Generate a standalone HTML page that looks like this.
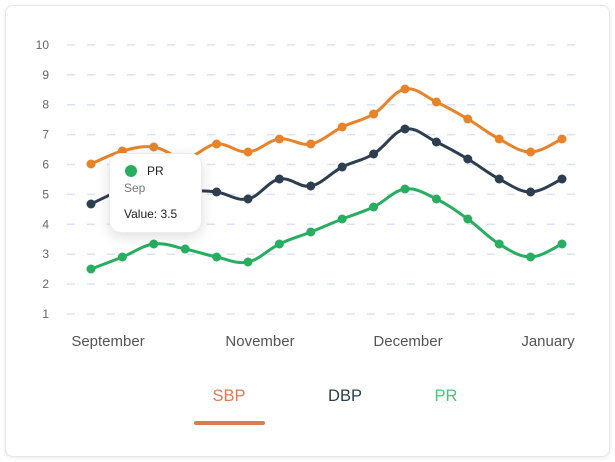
<!DOCTYPE html>
<html><head><meta charset="utf-8"><style>
html,body{margin:0;padding:0;background:#fff;width:615px;height:462px;overflow:hidden;font-family:"Liberation Sans",sans-serif}
.card{position:absolute;left:5px;top:5px;width:603px;height:450px;border:1px solid #e6e6e6;border-radius:8px;box-shadow:0 1px 4px rgba(0,0,0,0.08);background:#fff}
.tip{position:absolute;left:109px;top:153px;width:91px;height:78px;background:#fff;border:1px solid #ececec;border-radius:12px;box-shadow:0 4px 14px rgba(0,0,0,0.13);font-size:12px;color:#222}
</style></head><body>
<div class="card"></div>
<svg width="615" height="462" style="position:absolute;left:0;top:0" id="s">
<g id="grid" stroke="#dde3f7" stroke-width="1.5" stroke-dasharray="8 12"></g>
<g font-size="12" fill="#666" text-anchor="end" id="yl"></g>
<g font-size="15" fill="#555" text-anchor="middle">
<text x="108" y="346">September</text><text x="260" y="346">November</text><text x="408" y="346">December</text><text x="548" y="346">January</text></g>
<g id="series"></g>
<g font-size="16.5" text-anchor="middle">
<text x="229" y="401" fill="#e07a55">SBP</text><text x="345" y="401" fill="#2c3e50">DBP</text><text x="446" y="401" fill="#4cc77a">PR</text></g>
<line x1="196" y1="423" x2="263" y2="423" stroke="#e07a55" stroke-width="4" stroke-linecap="round"/>
</svg>
<div class="tip">
<div style="position:absolute;left:15px;top:11px;width:12px;height:12px;border-radius:50%;background:#27ae60"></div>
<div style="position:absolute;left:37px;top:10px">PR</div>
<div style="position:absolute;left:14px;top:27px;color:#777">Sep</div>
<div style="position:absolute;left:14px;top:53px">Value: 3.5</div>
</div>
<script>
var ns="http://www.w3.org/2000/svg",g=document.getElementById('grid'),yl=document.getElementById('yl');
for(var i=1;i<=10;i++){var y=314-(i-1)*29.9;var l=document.createElementNS(ns,'line');l.setAttribute('x1',67);l.setAttribute('x2',580);l.setAttribute('y1',y);l.setAttribute('y2',y);g.appendChild(l);
var t=document.createElementNS(ns,'text');t.setAttribute('x',49);t.setAttribute('y',y+4);t.textContent=i;yl.appendChild(t);}
var xs=[];for(var i=0;i<16;i++)xs.push(91+i*31.4);
var S=[[164,151,147,158,144,152,139,144,127,114,89,102,119,139,152,139,'#e8832a'],
[204,190,184,190,192,199,179,186,167,154,129,142,159,179,192,179,'#2c3e50'],
[269,257,244,249,257,262,244,232,219,207,189,199,219,244,257,244,'#27ae60']];
var sg=document.getElementById('series');
S.forEach(function(a){var c=a[16],p=[];for(var i=0;i<16;i++)p.push([xs[i],a[i]]);
var d='M'+p[0][0]+','+p[0][1],k=0.18;
for(var i=0;i<15;i++){var p0=p[Math.max(0,i-1)],p1=p[i],p2=p[i+1],p3=p[Math.min(15,i+2)];
d+=' C'+(p1[0]+(p2[0]-p0[0])*k)+','+(p1[1]+(p2[1]-p0[1])*k)+' '+(p2[0]-(p3[0]-p1[0])*k)+','+(p2[1]-(p3[1]-p1[1])*k)+' '+p2[0]+','+p2[1];}
var pa=document.createElementNS(ns,'path');pa.setAttribute('d',d);pa.setAttribute('fill','none');pa.setAttribute('stroke',c);pa.setAttribute('stroke-width',3);sg.appendChild(pa);
p.forEach(function(q){var ci=document.createElementNS(ns,'circle');ci.setAttribute('cx',q[0]);ci.setAttribute('cy',q[1]);ci.setAttribute('r',4.5);ci.setAttribute('fill',c);sg.appendChild(ci);});});
</script>
</body></html>
